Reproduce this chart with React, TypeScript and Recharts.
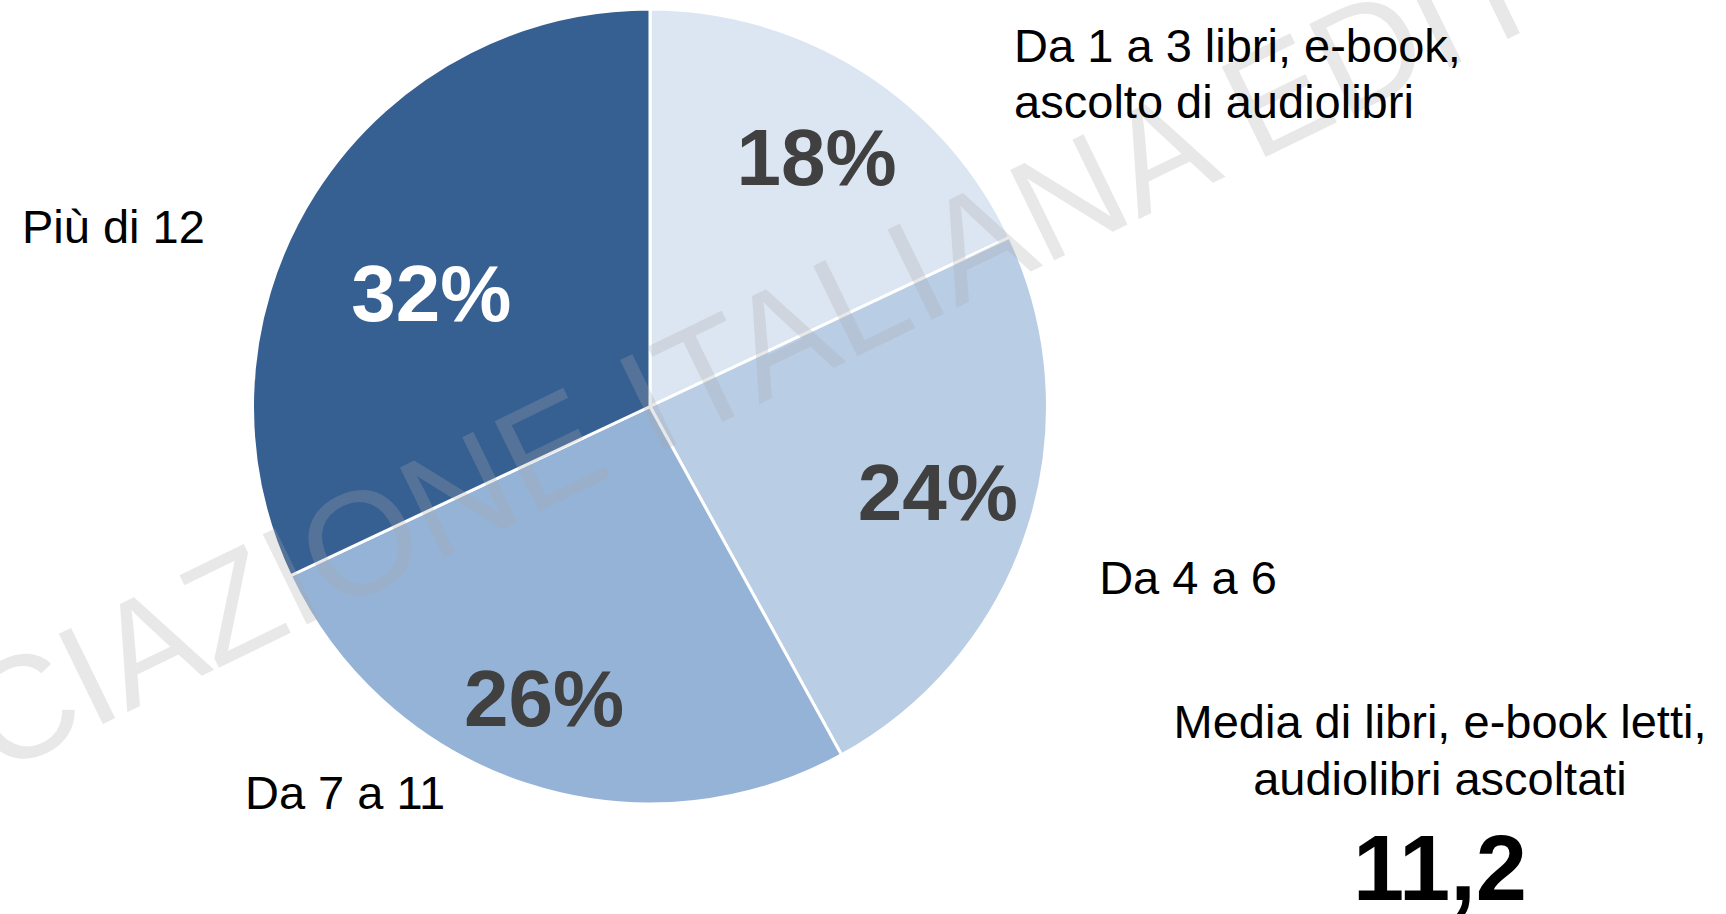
import { PieChart, Pie, Cell } from 'recharts'

const categories = ['Da 1 a 3 libri, e-book, ascolto di audiolibri', 'Da 4 a 6', 'Da 7 a 11', 'Più di 12']
const categoryLines = [['Da 1 a 3 libri, e-book,', 'ascolto di audiolibri'], ['Da 4 a 6'], ['Da 7 a 11'], ['Più di 12']]
const shares = [18, 24, 26, 32]
const averageLines = ['Media di libri, e-book letti,', 'audiolibri ascoltati']
const averageValue = '11,2'
const watermark = 'ASSOCIAZIONE ITALIANA EDITORI'

const sliceColors = ['#DCE6F2', '#B9CDE5', '#95B3D7', '#376092']
const pctColors = ['#404040', '#404040', '#404040', '#FFFFFF']

// label placement, in units of the pie radius
const pctRadius = [0.757, 0.755, 0.78, 0.62]
const pctShift = [-1.2, 1.6, -2, 4.9]
const namePos = [[0.916, -0.867], [1.13, 0.472], [-1.019, 1.013], [-1.58, -0.411]]

const W = 1726
const H = 914
const FONT = '"Liberation Sans", Arial, Helvetica, sans-serif'
const RAD = Math.PI / 180

const data = categories.map((name, i) => ({ name, value: shares[i] }))

function renderLabel(props: any) {
  const { cx, cy, midAngle, outerRadius, index, value } = props
  const a = (midAngle + pctShift[index]) * RAD
  const r = outerRadius * pctRadius[index]
  const px = cx + r * Math.cos(a)
  const py = cy - r * Math.sin(a)
  const [ox, oy] = namePos[index]
  const nx = cx + ox * outerRadius
  const ny = cy + oy * outerRadius
  return (
    <g>
      <text x={px} y={py + 0.358 * 80} textAnchor="middle" fill={pctColors[index]} fontSize={80} fontWeight={700} fontFamily={FONT}>
        {value}%
      </text>
      <text x={nx} y={ny} textAnchor="start" fill="#000" fontSize={47} fontFamily={FONT}>
        {categoryLines[index].map((l, i) => (
          <tspan key={i} x={nx} dy={i ? 56.5 : 0}>{l}</tspan>
        ))}
      </text>
    </g>
  )
}

const layer: React.CSSProperties = { position: 'absolute', left: 0, top: 0 }

export default function App() {
  return (
    <div style={{ position: 'absolute', left: 0, top: 0, width: W, height: H, background: '#fff' }}>
      <div style={layer}>
        <PieChart width={W} height={H} margin={{ top: 0, right: 0, bottom: 0, left: 0 }}>
          <Pie data={data} dataKey="value" cx={650} cy={406.5} outerRadius={397.5} startAngle={90} endAngle={-270}
            stroke="#fff" strokeWidth={3} isAnimationActive={false}>
            {data.map((d, i) => <Cell key={d.name} fill={sliceColors[i]} />)}
          </Pie>
        </PieChart>
      </div>
      <svg style={layer} width={W} height={H}>
        <text x={708} y={429} transform="rotate(-26 708 429)" textAnchor="middle" fontSize={146} fontFamily={FONT}
          fill="#A8A8A8" fillOpacity={0.265}>
          {watermark}
        </text>
        <text x={1440} y={738} textAnchor="middle" fontSize={47} fontFamily={FONT} fill="#000">
          {averageLines.map((l, i) => (
            <tspan key={i} x={1440} dy={i ? 57 : 0}>{l}</tspan>
          ))}
        </text>
        <text x={1440} y={900} textAnchor="middle" fontSize={92} fontWeight={700} fontFamily={FONT} fill="#000">
          {averageValue}
        </text>
      </svg>
      <div style={layer}>
        <PieChart width={W} height={H} margin={{ top: 0, right: 0, bottom: 0, left: 0 }}>
          <Pie data={data} dataKey="value" cx={650} cy={406.5} outerRadius={397.5} startAngle={90} endAngle={-270}
            fill="none" stroke="none" label={renderLabel} labelLine={false} isAnimationActive={false}>
            {data.map((d) => <Cell key={d.name} fill="none" stroke="none" />)}
          </Pie>
        </PieChart>
      </div>
    </div>
  )
}
